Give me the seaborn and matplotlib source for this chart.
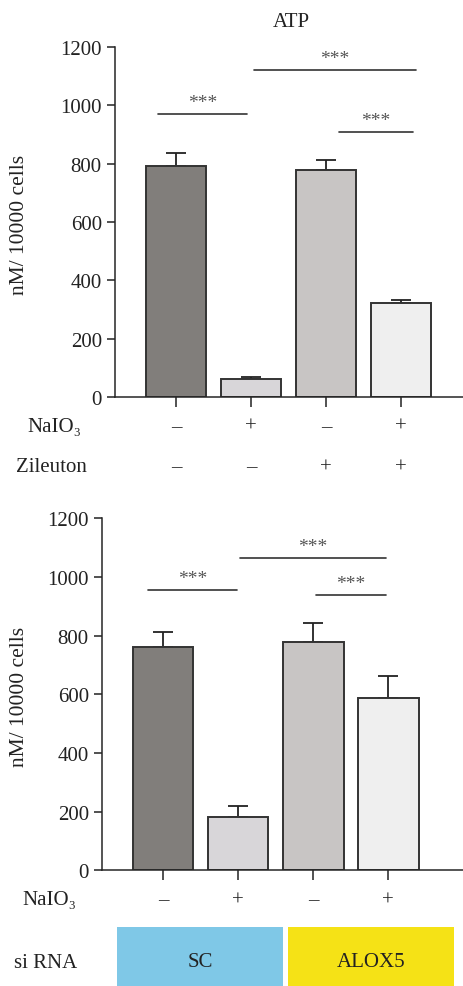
import numpy as np
import pandas as pd
import matplotlib
matplotlib.use('Agg')
import matplotlib.pyplot as plt
import matplotlib.transforms as mtransforms
from matplotlib.patches import Rectangle
import seaborn as sns

# data
groups = ['ctrl', 'NaIO3', 'Zileuton', 'NaIO3+Zileuton']
atp_top = [791, 61, 779, 321]
sem_top = [45, 9, 33, 12]
atp_bottom = [762, 183, 779, 587]
sem_bottom = [50, 37, 65, 74]

naio3_signs = ['–', '+', '–', '+']
zileuton_signs = ['–', '–', '+', '+']
sirna_groups = ['SC', 'ALOX5']

# significance brackets: (x start, x end, height) in data units
sig_top = [(-0.24, 0.95, 969), (1.04, 3.2, 1122), (2.17, 3.16, 909)]
sig_bottom = [(-0.2, 0.99, 957), (1.03, 2.97, 1064), (2.04, 2.97, 939)]
# siRNA box spans in data units
sirna_spans = [(-0.613, 1.6), (1.667, 3.88)]

bar_colors = ['#827e7a', '#d8d6d9', '#c9c5c3', '#efefef']
sirna_colors = ['#7fc8e7', '#f5e216']

sns.set_style('ticks')
plt.rcParams['font.family'] = ['Liberation Serif', 'DejaVu Serif']
plt.rcParams['axes.linewidth'] = 1.1

FS = 15
fig = plt.figure(figsize=(4.64, 9.87), dpi=100)
ax1 = fig.add_axes([0.2478, 0.5967, 1 - 0.2478, 0.3547])
ax2 = fig.add_axes([0.2198, 0.1172, 1 - 0.2198, 0.3567])


def draw_panel(ax, values, errs, sigs):
    df = pd.DataFrame({'group': groups, 'value': values})
    sns.barplot(data=df, x='group', y='value', hue='group', palette=bar_colors,
                order=groups, hue_order=groups, legend=False, errorbar=None,
                width=0.81, edgecolor='#333333', linewidth=1.4, ax=ax)
    ax.errorbar(np.arange(len(groups)), values, yerr=[np.zeros(len(errs)), errs],
                fmt='none', ecolor='#222222', elinewidth=1.3, capsize=7, capthick=1.3,
                zorder=1)
    for p in ax.patches:
        p.set_zorder(2)
    ax.set_ylim(0, 1200)
    ax.set_yticks(range(0, 1201, 200))
    ax.set_xticks(range(len(groups)))
    ax.set_xticklabels([])
    ax.set_xlabel('')
    ax.set_ylabel('nM/ 10000 cells', fontsize=15.5, color='#222222')
    ax.tick_params(axis='both', direction='out', length=6, width=1.1,
                   labelsize=FS, colors='#222222')
    ax.tick_params(axis='x', length=7)
    sns.despine(ax=ax)
    for x0, x1, h in sigs:
        ax.plot([x0, x1], [h, h], color='#333333', lw=1.2, clip_on=False)
        ax.text((x0 + x1) / 2, h + 10, '***', ha='center', va='bottom',
                fontsize=14, color='#555555')


draw_panel(ax1, atp_top, sem_top, sig_top)
draw_panel(ax2, atp_bottom, sem_bottom, sig_bottom)
ax1.set_xlim(-0.813, 3.84)
ax2.set_xlim(-0.813, 4.01)

ax1.yaxis.set_label_coords(-0.246, 0.494)
ax2.yaxis.set_label_coords(-0.202, 0.495)
ax1.text(0.504, 1.072, 'ATP', transform=ax1.transAxes, ha='center', va='center',
         fontsize=FS, color='#222222')

# treatment rows
tr1 = mtransforms.blended_transform_factory(ax1.transData, ax1.transAxes)
tr2 = mtransforms.blended_transform_factory(ax2.transData, ax2.transAxes)
for i, s in enumerate(naio3_signs):
    ax1.text(i, -0.083, s, transform=tr1, ha='center', va='center', fontsize=FS, color='#222222')
    ax2.text(i, -0.0835, s, transform=tr2, ha='center', va='center', fontsize=FS, color='#222222')
for i, s in enumerate(zileuton_signs):
    ax1.text(i, -0.2, s, transform=tr1, ha='center', va='center', fontsize=FS, color='#222222')

fig.text(0.116, 0.567, 'NaIO₃', ha='center', va='center', fontsize=FS, color='#222222')
fig.text(0.11, 0.526, 'Zileuton', ha='center', va='center', fontsize=FS, color='#222222')
fig.text(0.106, 0.0874, 'NaIO₃', ha='center', va='center', fontsize=FS, color='#222222')
fig.text(0.099, 0.0243, 'si RNA', ha='center', va='center', fontsize=FS, color='#222222')

# siRNA boxes spanning pairs of bars
for name, col, (x0, x1) in zip(sirna_groups, sirna_colors, sirna_spans):
    ax2.add_patch(Rectangle((x0, -0.329), x1 - x0, 0.168, transform=tr2,
                            facecolor=col, edgecolor='none', clip_on=False))
    ax2.text((x0 + x1) / 2, -0.26, name, transform=tr2, ha='center', va='center',
             fontsize=FS, color='#222222')

fig.savefig('out.png', dpi=100)
